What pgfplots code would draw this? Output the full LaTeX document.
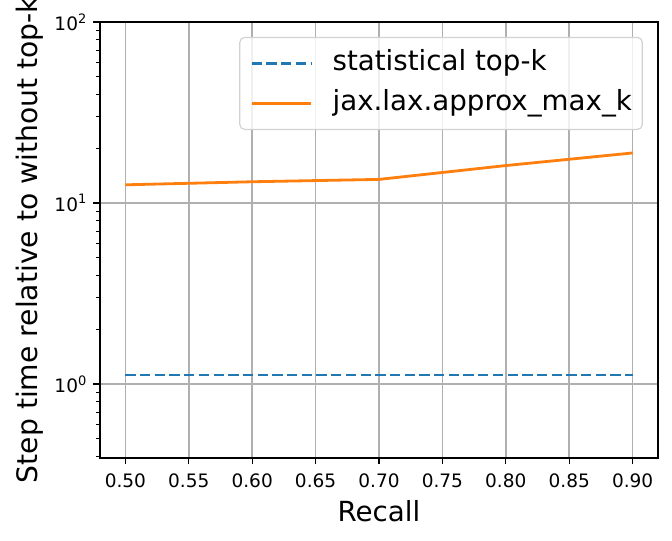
\documentclass[border=0pt]{standalone}
\usepackage{fontspec}
\setmainfont{DejaVu Sans}
\usepackage{pgfplots}
\pgfplotsset{compat=1.18}
\definecolor{mblue}{HTML}{1F77B4}
\definecolor{morange}{HTML}{FF7F0E}
\definecolor{gridgray}{HTML}{B0B0B0}
\newcommand{\sups}[1]{10\raisebox{0.72ex}{\fontsize{13bp}{14bp}\selectfont #1}}
\begin{document}
\begin{tikzpicture}
\begin{axis}[
  name=ax, at={(0,0)}, anchor=south west,
  scale only axis, width=558bp, height=436bp,
  ymode=log, xmin=0.48, xmax=0.92, ymin=0.39, ymax=100,
  xtick={0.5,0.55,...,0.91},
  xticklabels={0.50,0.55,0.60,0.65,0.70,0.75,0.80,0.85,0.90},
  ytick={1,10,100},
  yticklabels={\sups{0},\sups{1},\sups{2}},
  minor ytick={0.4,0.5,0.6,0.7,0.8,0.9,2,3,4,5,6,7,8,9,20,30,40,50,60,70,80,90},
  tick align=outside, major tick length=6.5bp, minor tick length=3.7bp,
  tick style={line width=1.1bp, black},
  minor tick style={line width=0.85bp},
  xtick pos=bottom, ytick pos=left,
  grid=major, major grid style={gridgray, line width=1.5bp},
  axis line style={line width=1.5bp, black},
  ticklabel style={font=\fontsize{18.5bp}{20bp}\selectfont},
  xticklabel style={inner sep=0pt, yshift=-9bp},
  yticklabel style={inner sep=0pt, xshift=-7bp},
  /pgf/number format/assume math mode=true,
  xlabel={Recall}, ylabel={Step time relative to without top-k},
  every axis x label/.style={at={(axis description cs:0.5,0)}, anchor=center, yshift=-53bp, font=\fontsize{27.7bp}{30bp}\selectfont},
  every axis y label/.style={at={(axis description cs:-0.1254,0.5)}, rotate=90, anchor=center, font=\fontsize{28.2bp}{30bp}\selectfont},
  legend style={at={(0.973,0.966)}, anchor=north east, draw=gray!35, line width=1.2bp, rounded corners=5bp,
    fill=white, fill opacity=0.8, text opacity=1, font=\fontsize{27.7bp}{30bp}\selectfont,
    inner xsep=10.5bp, inner ysep=12bp, row sep=12bp,
    nodes={inner sep=0pt, text height=21bp, text depth=7bp}},
  legend cell align=left,
  legend image code/.code={\draw[#1] (0bp,0bp) -- (59bp,0bp); \path (0bp,0bp) (79.5bp,0bp);},
]
\addplot[mblue, line width=2.8bp, dash pattern=on 10.3bp off 4.4bp] coordinates {(0.5,1.12) (0.6,1.12) (0.7,1.12) (0.8,1.12) (0.9,1.12)};
\addlegendentry{statistical top-k}
\addplot[morange, line width=2.8bp] coordinates {(0.5,12.6) (0.6,13.1) (0.7,13.5) (0.8,16.1) (0.9,18.9)};
\addlegendentry{jax.lax.approx\_max\_k}
\end{axis}
\pgfresetboundingbox
\path[use as bounding box] (-100bp,-83bp) rectangle (572bp,458bp);
\end{tikzpicture}
\end{document}
